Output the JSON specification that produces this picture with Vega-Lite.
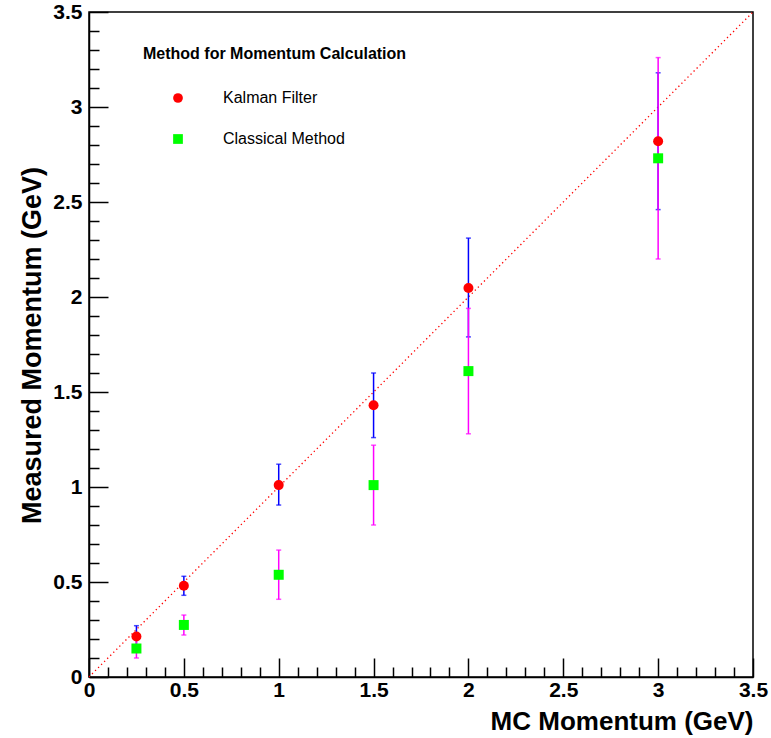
{
  "$schema": "https://vega.github.io/schema/vega-lite/v6.json",
  "width": 664,
  "height": 665,
  "autosize": {"type": "none"},
  "padding": {"left": 89, "top": 12, "right": 18, "bottom": 61},
  "background": "white",
  "config": {
    "view": {"stroke": "black", "strokeWidth": 1.5},
    "font": "Liberation Sans",
    "axis": {"grid": false, "domainColor": "black", "tickColor": "black", "labelColor": "black", "titleColor": "black", "domainWidth": 1.5, "tickWidth": 1.5}
  },
  "datasets": {
    "points": [
      {"method": "Classical Method", "mc": 0.25, "measured": 0.15, "low": 0.10, "high": 0.20},
      {"method": "Classical Method", "mc": 0.5, "measured": 0.274, "low": 0.221, "high": 0.326},
      {"method": "Classical Method", "mc": 1.0, "measured": 0.538, "low": 0.409, "high": 0.668},
      {"method": "Classical Method", "mc": 1.5, "measured": 1.01, "low": 0.80, "high": 1.22},
      {"method": "Classical Method", "mc": 2.0, "measured": 1.61, "low": 1.28, "high": 1.94},
      {"method": "Classical Method", "mc": 3.0, "measured": 2.73, "low": 2.20, "high": 3.26},
      {"method": "Kalman Filter", "mc": 0.25, "measured": 0.213, "low": 0.16, "high": 0.27},
      {"method": "Kalman Filter", "mc": 0.5, "measured": 0.48, "low": 0.43, "high": 0.53},
      {"method": "Kalman Filter", "mc": 1.0, "measured": 1.01, "low": 0.905, "high": 1.12},
      {"method": "Kalman Filter", "mc": 1.5, "measured": 1.43, "low": 1.26, "high": 1.60},
      {"method": "Kalman Filter", "mc": 2.0, "measured": 2.047, "low": 1.79, "high": 2.31},
      {"method": "Kalman Filter", "mc": 3.0, "measured": 2.82, "low": 2.46, "high": 3.18}
    ],
    "diag": [
      {"mc": 0, "measured": 0},
      {"mc": 3.5, "measured": 3.5}
    ]
  },
  "resolve": {"axis": {"x": "independent", "y": "independent"}},
  "layer": [
    {
      "data": {"name": "diag"},
      "mark": {"type": "line", "color": "#ff0000", "strokeWidth": 1.3, "strokeDash": [1.3, 3]},
      "encoding": {
        "x": {"field": "mc", "type": "quantitative", "scale": {"domain": [0, 3.5], "nice": false, "zero": false},
          "axis": {"orient": "bottom", "values": [0, 0.5, 1, 1.5, 2, 2.5, 3, 3.5], "format": "~g", "tickSize": -19, "labelPadding": 21,
            "labelFontSize": 21, "labelFontWeight": "bold", "labelFlush": false, "labelOverlap": false,
            "title": "MC Momentum (GeV)", "titleFontSize": 26, "titleFontWeight": "bold", "titleAnchor": "end",
            "titleAlign": "right", "titleX": 664, "titleY": 52, "titleBaseline": "alphabetic"}},
        "y": {"field": "measured", "type": "quantitative", "scale": {"domain": [0, 3.5], "nice": false, "zero": false},
          "axis": {"orient": "left", "values": [0, 0.5, 1, 1.5, 2, 2.5, 3, 3.5], "format": "~g", "tickSize": -19, "labelPadding": 26,
            "labelFontSize": 21, "labelFontWeight": "bold", "labelFlush": false, "labelOverlap": false,
            "title": "Measured Momentum (GeV)", "titleFontSize": 27, "titleFontWeight": "bold",
            "titleX": -49, "titleY": 333, "titleAngle": -90, "titleAlign": "center", "titleBaseline": "alphabetic"}}
      }
    },
    {
      "data": {"name": "diag"},
      "mark": {"type": "point", "opacity": 0},
      "encoding": {
        "x": {"field": "mc", "type": "quantitative",
          "axis": {"orient": "bottom", "values": [0.1, 0.2, 0.3, 0.4, 0.6, 0.7, 0.8, 0.9, 1.1, 1.2, 1.3, 1.4, 1.6, 1.7, 1.8, 1.9, 2.1, 2.2, 2.3, 2.4, 2.6, 2.7, 2.8, 2.9, 3.1, 3.2, 3.3, 3.4],
            "tickSize": -10, "labels": false, "domain": false, "title": null}},
        "y": {"field": "measured", "type": "quantitative",
          "axis": {"orient": "left", "values": [0.1, 0.2, 0.3, 0.4, 0.6, 0.7, 0.8, 0.9, 1.1, 1.2, 1.3, 1.4, 1.6, 1.7, 1.8, 1.9, 2.1, 2.2, 2.3, 2.4, 2.6, 2.7, 2.8, 2.9, 3.1, 3.2, 3.3, 3.4],
            "tickSize": -10, "labels": false, "domain": false, "title": null}}
      }
    },
    {
      "data": {"name": "points"},
      "transform": [{"filter": "datum.method === 'Kalman Filter'"}],
      "mark": {"type": "errorbar", "color": "#0000ff", "thickness": 1.5, "ticks": {"size": 5}},
      "encoding": {
        "x": {"field": "mc", "type": "quantitative", "axis": null},
        "y": {"field": "low", "type": "quantitative", "axis": null},
        "y2": {"field": "high"}
      }
    },
    {
      "data": {"name": "points"},
      "transform": [{"filter": "datum.method === 'Classical Method'"}],
      "mark": {"type": "errorbar", "color": "#ff00ff", "thickness": 1.5, "ticks": {"size": 5}},
      "encoding": {
        "x": {"field": "mc", "type": "quantitative", "axis": null},
        "y": {"field": "low", "type": "quantitative", "axis": null},
        "y2": {"field": "high"}
      }
    },
    {
      "data": {"name": "points"},
      "mark": {"type": "point", "filled": true, "opacity": 1, "size": 100},
      "encoding": {
        "x": {"field": "mc", "type": "quantitative", "axis": null},
        "y": {"field": "measured", "type": "quantitative", "axis": null},
        "color": {"field": "method", "type": "nominal",
          "scale": {"domain": ["Kalman Filter", "Classical Method"], "range": ["#ff0000", "#00ff00"]},
          "legend": {"orient": "none", "legendX": 54, "legendY": 34, "padding": 0,
            "title": "Method for Momentum Calculation", "titleLimit": 500, "titleFontSize": 16, "titleFontWeight": "bold", "titleColor": "black",
            "titlePadding": 28, "rowPadding": 25, "symbolOffset": 27, "labelOffset": 37,
            "labelFontSize": 16, "labelColor": "black", "symbolSize": 95, "symbolStrokeWidth": 0}},
        "shape": {"field": "method", "type": "nominal",
          "scale": {"domain": ["Kalman Filter", "Classical Method"], "range": ["circle", "square"]}},
        "order": {"field": "method", "sort": "ascending"}
      }
    }
  ]
}
